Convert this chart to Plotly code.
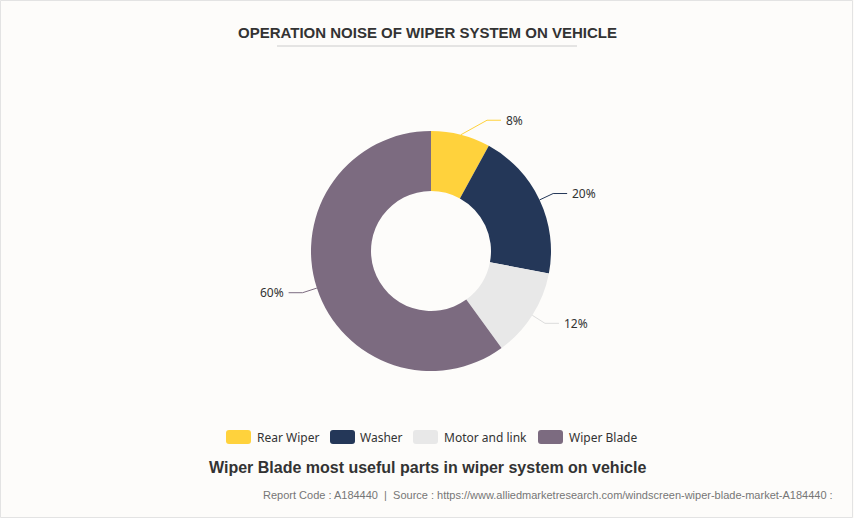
import math
import plotly.graph_objects as go

W, H = 854, 518

categories = ["Rear Wiper", "Washer", "Motor and link", "Wiper Blade"]
values = [8, 20, 12, 60]
colors = ["#FFD23C", "#243758", "#E8E8E8", "#7C6B80"]
value_labels = ["8%", "20%", "12%", "60%"]

title_text = "OPERATION NOISE OF WIPER SYSTEM ON VEHICLE"
subtitle_text = "Wiper Blade most useful parts in wiper system on vehicle"
footer_text = ("Report Code : A184440  |  Source : "
               "https://www.alliedmarketresearch.com/windscreen-wiper-blade-market-A184440 :")

# layout geometry (pixels)
cx, cy, R = 431, 251, 120
elbow_r, hlen, min_dx = 135, 14, 56
legend_y = 437
legend_swatch_x = [226, 330, 413, 538]
legend_text_x = [255, 358, 442, 567]

def px(x):
    return x / W

def py(y):
    return 1 - y / H

fig = go.Figure()
fig.add_trace(go.Pie(
    labels=categories, values=values,
    marker=dict(colors=colors, line=dict(width=0)),
    hole=0.5, sort=False, direction="clockwise", rotation=0,
    textinfo="none", hoverinfo="label+percent",
    domain=dict(x=[px(cx - R), px(cx + R)], y=[py(cy + R), py(cy - R)]),
    showlegend=False,
))

shapes = []
annotations = []
label_font = dict(family="Noto Sans, sans-serif", size=12, color="#333333")

# leader lines and value labels, derived from the slice angles
total = sum(values)
cum = 0
for cat, v, col, lab in zip(categories, values, colors, value_labels):
    mid = 90 - (cum + v / 2) / total * 360
    cum += v
    a = math.radians(mid)
    x0, y0 = cx + R * math.cos(a), cy - R * math.sin(a)
    side = 1 if math.cos(a) >= 0 else -1
    dx = max(abs(elbow_r * math.cos(a)), min_dx)
    x1, y1 = cx + side * dx, cy - elbow_r * math.sin(a)
    x2 = x1 + side * hlen
    line_col = col if col != "#E8E8E8" else "#DDDDDD"
    shapes.append(dict(type="path", xref="paper", yref="paper",
                       path=f"M {px(x0)} {py(y0)} L {px(x1)} {py(y1)} L {px(x2)} {py(y1)}",
                       line=dict(color=line_col, width=1)))
    annotations.append(dict(x=px(x2 + side * 3), y=py(y1), xref="paper", yref="paper",
                            text=lab, showarrow=False,
                            xanchor="left" if side > 0 else "right", yanchor="middle",
                            font=label_font))

# custom legend (rounded swatches like the original)
sw, sh, rr = 25, 14, 3
for cat, col, sx, tx in zip(categories, colors, legend_swatch_x, legend_text_x):
    xl, xr = sx, sx + sw
    yt, yb = legend_y - sh / 2, legend_y + sh / 2
    path = (f"M {px(xl + rr)} {py(yt)} L {px(xr - rr)} {py(yt)} Q {px(xr)} {py(yt)} {px(xr)} {py(yt + rr)} "
            f"L {px(xr)} {py(yb - rr)} Q {px(xr)} {py(yb)} {px(xr - rr)} {py(yb)} "
            f"L {px(xl + rr)} {py(yb)} Q {px(xl)} {py(yb)} {px(xl)} {py(yb - rr)} "
            f"L {px(xl)} {py(yt + rr)} Q {px(xl)} {py(yt)} {px(xl + rr)} {py(yt)} Z")
    shapes.append(dict(type="path", xref="paper", yref="paper", path=path,
                       fillcolor=col, line=dict(width=0)))
    annotations.append(dict(x=px(tx), y=py(legend_y), xref="paper", yref="paper", text=cat,
                            showarrow=False, xanchor="left", yanchor="middle", font=label_font))

# title underline
shapes.append(dict(type="line", xref="paper", yref="paper",
                   x0=px(277), x1=px(577), y0=py(46), y1=py(46),
                   line=dict(color="#CCCCCC", width=1)))
# outer border
shapes.append(dict(type="rect", xref="paper", yref="paper",
                   x0=px(0.5), x1=px(W - 1.5), y0=py(0.5), y1=py(H - 0.5),
                   line=dict(color="#E3E3E3", width=1)))

annotations.append(dict(x=px(427), y=py(33), xref="paper", yref="paper", text=f"<b>{title_text}</b>",
                        showarrow=False, xanchor="center", yanchor="middle",
                        font=dict(family="Liberation Sans, Arial, sans-serif", size=15, color="#333333")))
annotations.append(dict(x=px(427), y=py(467), xref="paper", yref="paper", text=f"<b>{subtitle_text}</b>",
                        showarrow=False, xanchor="center", yanchor="middle",
                        font=dict(family="Liberation Sans, Arial, sans-serif", size=16, color="#333333")))
annotations.append(dict(x=px(835), y=py(495), xref="paper", yref="paper", text=footer_text,
                        showarrow=False, xanchor="right", yanchor="middle",
                        font=dict(family="Liberation Sans, Arial, sans-serif", size=11, color="#767676")))

fig.update_layout(
    width=W, height=H,
    margin=dict(l=0, r=0, t=0, b=0),
    paper_bgcolor="#FDFCFA", plot_bgcolor="#FDFCFA",
    showlegend=False,
    shapes=shapes, annotations=annotations,
)

fig.write_html("out.html", config={"displayModeBar": False},
               post_script="document.body.style.margin='0';document.body.style.overflow='hidden';")
